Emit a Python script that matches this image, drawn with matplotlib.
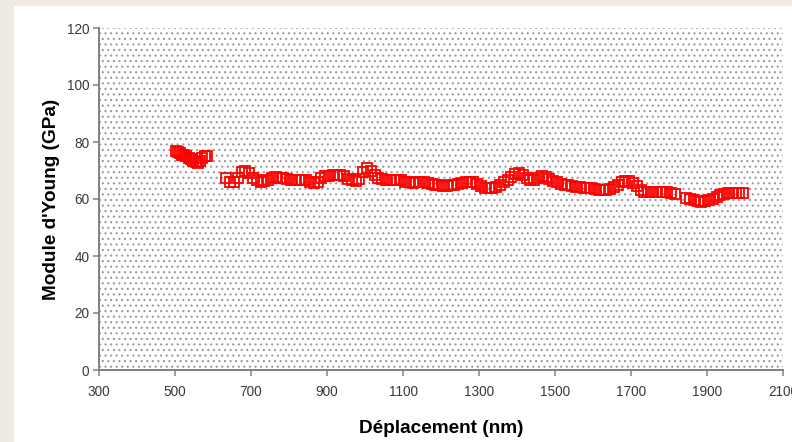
import matplotlib
matplotlib.use("Agg")
import matplotlib.pyplot as plt
from matplotlib.patches import Rectangle
import numpy as np

plt.rcParams['font.family'] = ['Liberation Sans', 'DejaVu Sans']
plt.rcParams['hatch.linewidth'] = 0.8

# Displacement (nm) and Young's modulus (GPa)
depth_nm = [
    502, 507, 512, 518, 524, 530, 536, 542, 548, 554, 560, 566, 572, 578, 584,
    635, 645, 655, 665, 675, 685, 695, 705, 715, 725, 735, 745, 755, 765, 775,
    785, 795, 805, 815, 825, 835, 845, 855, 865, 875, 885, 895, 905, 915, 925,
    935, 945, 955, 965, 975, 985, 995, 1005, 1015, 1025, 1035, 1045, 1055, 1065,
    1075, 1085, 1095, 1105, 1115, 1125, 1135, 1145, 1155, 1165, 1175, 1185, 1195,
    1205, 1215, 1225, 1235, 1245, 1255, 1265, 1275, 1285, 1295, 1305, 1315, 1325,
    1335, 1345, 1355, 1365, 1375, 1385, 1395, 1405, 1415, 1425, 1435, 1445, 1455,
    1465, 1475, 1485, 1495, 1505, 1515, 1525, 1535, 1545, 1555, 1565, 1575, 1585,
    1595, 1605, 1615, 1625, 1635, 1645, 1655, 1665, 1675, 1685, 1695, 1705, 1715,
    1725, 1735, 1745, 1755, 1765, 1775, 1785, 1795, 1805, 1815,
    1845, 1855, 1865, 1875, 1885, 1895, 1905, 1915, 1925, 1935, 1945, 1955, 1965,
    1975, 1985, 1995,
]
modulus_gpa = [
    77, 76.5, 76, 75.5, 75.5, 75, 74.5, 74, 73.5, 73, 72.8, 73.5, 74.5, 75, 75,
    67.3, 65.8, 66, 67.5, 69.5, 70, 69, 67.5, 66.5, 66, 66.2, 66.8, 67.5, 67.8, 67.5,
    67.2, 67, 66.8, 66.8, 66.7, 66.5, 66.5, 66, 65.5, 66, 67.2, 68, 68.2, 68.4, 68.5,
    68.3, 68, 67, 66.5, 66.3, 67, 69.5, 71, 70, 68.5, 67.5, 67, 66.8, 66.7,
    66.8, 66.8, 66.5, 66, 65.8, 65.5, 65.8, 66, 66, 65.5, 65.3, 65, 64.8,
    64.5, 64.5, 64.8, 65, 65.3, 65.5, 65.8, 66, 65.8, 65.2, 64.5, 64, 63.8,
    63.8, 64.2, 64.8, 65.8, 66.8, 67.8, 68.8, 69, 68.5, 67.5, 66.8, 66.8, 67.5,
    68, 67.8, 67, 66.2, 65.8, 65.3, 65, 64.8, 64.5, 64.3, 64.2, 64, 64,
    63.8, 63.5, 63.2, 63, 63, 63.5, 64.3, 65, 65.8, 66.3, 66.2, 65.5, 64.5,
    63.3, 62.5, 62.3, 62.3, 62.5, 62.5, 62.5, 62.3, 62.2, 61.8,
    60.5, 60, 59.5, 59.2, 59, 59.2, 59.5, 60, 60.8, 61.3, 61.8, 62, 62,
    62.2, 62.2, 62.2,
]
x_ticks = [300, 500, 700, 900, 1100, 1300, 1500, 1700, 1900, 2100]
y_ticks = [0, 20, 40, 60, 80, 100, 120]

W, H = 792, 442
fig = plt.figure(figsize=(W / 100, H / 100), dpi=100, facecolor='#efebe2')

# white chart panel behind the axes
fig.patches.append(Rectangle((14 / W, 0), 1 - 14 / W, (H - 6) / H,
                             transform=fig.transFigure, facecolor='white',
                             edgecolor='none', zorder=-10))

ax = fig.add_axes([99 / W, (H - 370) / H, (783 - 99) / W, (370 - 28) / H])
ax.set_facecolor('white')
# dotted fill of the plotting area
ax.add_patch(Rectangle((0, 0), 1, 1, transform=ax.transAxes, facecolor='white',
                       edgecolor='#9a9a9a', linewidth=0, hatch='...', zorder=0))

ax.plot(depth_nm, modulus_gpa, linestyle='none', marker='s', markersize=6.8,
        markerfacecolor='none', markeredgecolor='#ff0000', markeredgewidth=1.3,
        zorder=3)

ax.set_xlim(300, 2100)
ax.set_ylim(0, 120)
ax.set_xticks(x_ticks)
ax.set_yticks(y_ticks)
ax.set_xticklabels([str(v) for v in x_ticks])

for side in ('top', 'right'):
    ax.spines[side].set_visible(False)
for side in ('left', 'bottom'):
    ax.spines[side].set_color('#808080')
    ax.spines[side].set_linewidth(1.4)

ax.tick_params(axis='both', direction='out', length=4, width=1.1,
               color='#808080', labelsize=9.8, labelcolor='#3a3a3a')
ax.tick_params(axis='x', pad=7)
ax.tick_params(axis='y', pad=3)

ax.set_xlabel('Déplacement (nm)', fontsize=13.7, fontweight='bold', labelpad=15)
ax.set_ylabel("Module d'Young (GPa)", fontsize=13.7, fontweight='bold', labelpad=5)

fig.savefig('out.png', dpi=100, facecolor=fig.get_facecolor())
